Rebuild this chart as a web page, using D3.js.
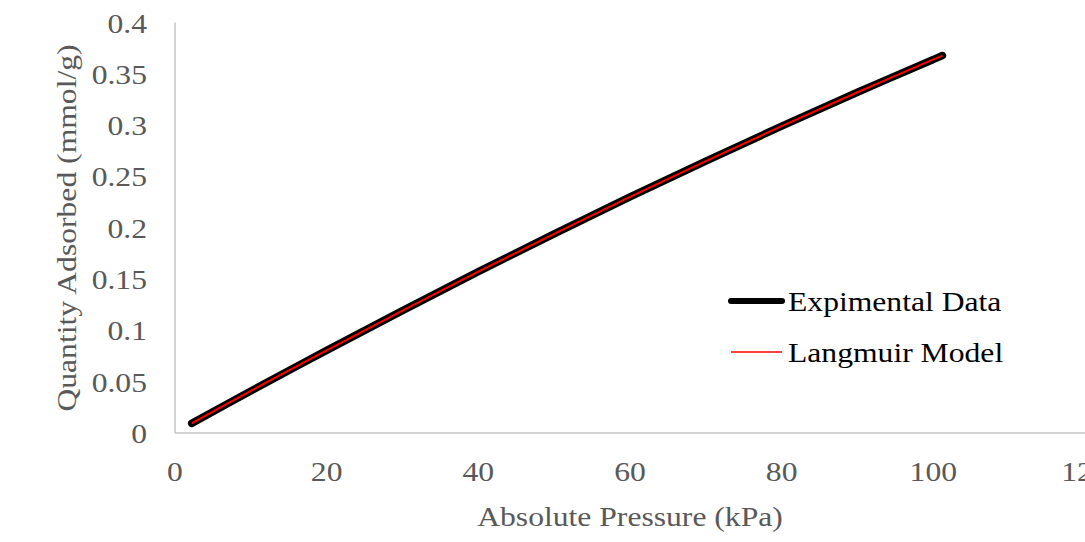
<!DOCTYPE html>
<html>
<head>
<meta charset="utf-8">
<script src="https://cdn.jsdelivr.net/npm/d3@7"></script>
<style>
  body { margin: 0; background: #fff; }
  svg { display: block; }
  text { font-family: "Liberation Serif", "Times New Roman", serif; font-size: 28px; }
</style>
</head>
<body>
<div id="chart"></div>
<script>
// Pressure (kPa) and quantity adsorbed (mmol/g)
const pressure = [2.2, 10, 20, 30, 40, 50, 60, 70, 80, 90, 100, 101.2];
const experimental = [0.0094, 0.041, 0.0805, 0.1193, 0.1572, 0.1941, 0.2300, 0.2650, 0.2990, 0.3320, 0.3640, 0.3678];
const langmuir = [0.0094, 0.041, 0.0805, 0.1193, 0.1572, 0.1941, 0.2300, 0.2650, 0.2990, 0.3320, 0.3640, 0.3678];
const xTicks = [0, 20, 40, 60, 80, 100, 120];
const yTicks = [0, 0.05, 0.1, 0.15, 0.2, 0.25, 0.3, 0.35, 0.4];
const seriesNames = ["Expimental Data", "Langmuir Model"];

const W = 1085, H = 542;
const margin = { top: 22.5, right: 0, bottom: 109, left: 175 };
const stretch = 1.13; // the original text is a bit wider than the font

const svg = d3.select("#chart").append("svg")
    .attr("width", W)
    .attr("height", H);

const x = d3.scaleLinear().domain([0, 120]).range([margin.left, W - margin.right]);
const y = d3.scaleLinear().domain([0, 0.4]).range([H - margin.bottom, margin.top]);

const gray = "#595959";
const place = (px, py, rot) => `translate(${px},${py})` + (rot ? ` rotate(${rot})` : "") + ` scale(${stretch},1)`;

// axis lines
svg.append("line")
    .attr("x1", x(0)).attr("x2", x(0))
    .attr("y1", y(0.4)).attr("y2", y(0))
    .attr("stroke", "#c4c4c4").attr("stroke-width", 1.5);
svg.append("line")
    .attr("x1", x(0)).attr("x2", x(120))
    .attr("y1", y(0)).attr("y2", y(0))
    .attr("stroke", "#c4c4c4").attr("stroke-width", 1.5);

// tick labels
svg.selectAll(".xl").data(xTicks).enter().append("text")
    .attr("transform", d => place(x(d), y(0) + 48))
    .attr("text-anchor", "middle")
    .style("fill", gray)
    .text(d => d);

svg.selectAll(".yl").data(yTicks).enter().append("text")
    .attr("transform", d => place(147, y(d) + 10))
    .attr("text-anchor", "end")
    .style("fill", gray)
    .text(d => d3.format("~g")(d));

// axis titles
svg.append("text")
    .attr("transform", place(630, 526))
    .attr("text-anchor", "middle")
    .style("fill", gray)
    .text("Absolute Pressure (kPa)");

svg.append("text")
    .attr("transform", place(76, 228, -90))
    .attr("text-anchor", "middle")
    .style("fill", gray)
    .text("Quantity Adsorbed (mmol/g)");

// series
const line = d3.line().curve(d3.curveCatmullRom)
    .x(d => x(d[0])).y(d => y(d[1]));

svg.append("path")
    .datum(d3.zip(pressure, experimental))
    .attr("d", line)
    .attr("fill", "none")
    .attr("stroke", "#000")
    .attr("stroke-width", 7.5)
    .attr("stroke-linecap", "round")
    .attr("stroke-linejoin", "round");

svg.append("path")
    .datum(d3.zip(pressure, langmuir))
    .attr("d", line)
    .attr("fill", "none")
    .attr("stroke", "#ff0000")
    .attr("stroke-width", 2);

// legend
const legend = svg.append("g");
legend.append("line")
    .attr("x1", 731).attr("x2", 782).attr("y1", 301).attr("y2", 301)
    .attr("stroke", "#000").attr("stroke-width", 6).attr("stroke-linecap", "round");
legend.append("line")
    .attr("x1", 731).attr("x2", 782).attr("y1", 352).attr("y2", 352)
    .attr("stroke", "#ff0000").attr("stroke-width", 1.3);
legend.selectAll(".lt").data(seriesNames).enter().append("text")
    .attr("transform", (d, i) => place(788, 311 + i * 51))
    .style("fill", "#000")
    .text(d => d);
</script>
</body>
</html>
